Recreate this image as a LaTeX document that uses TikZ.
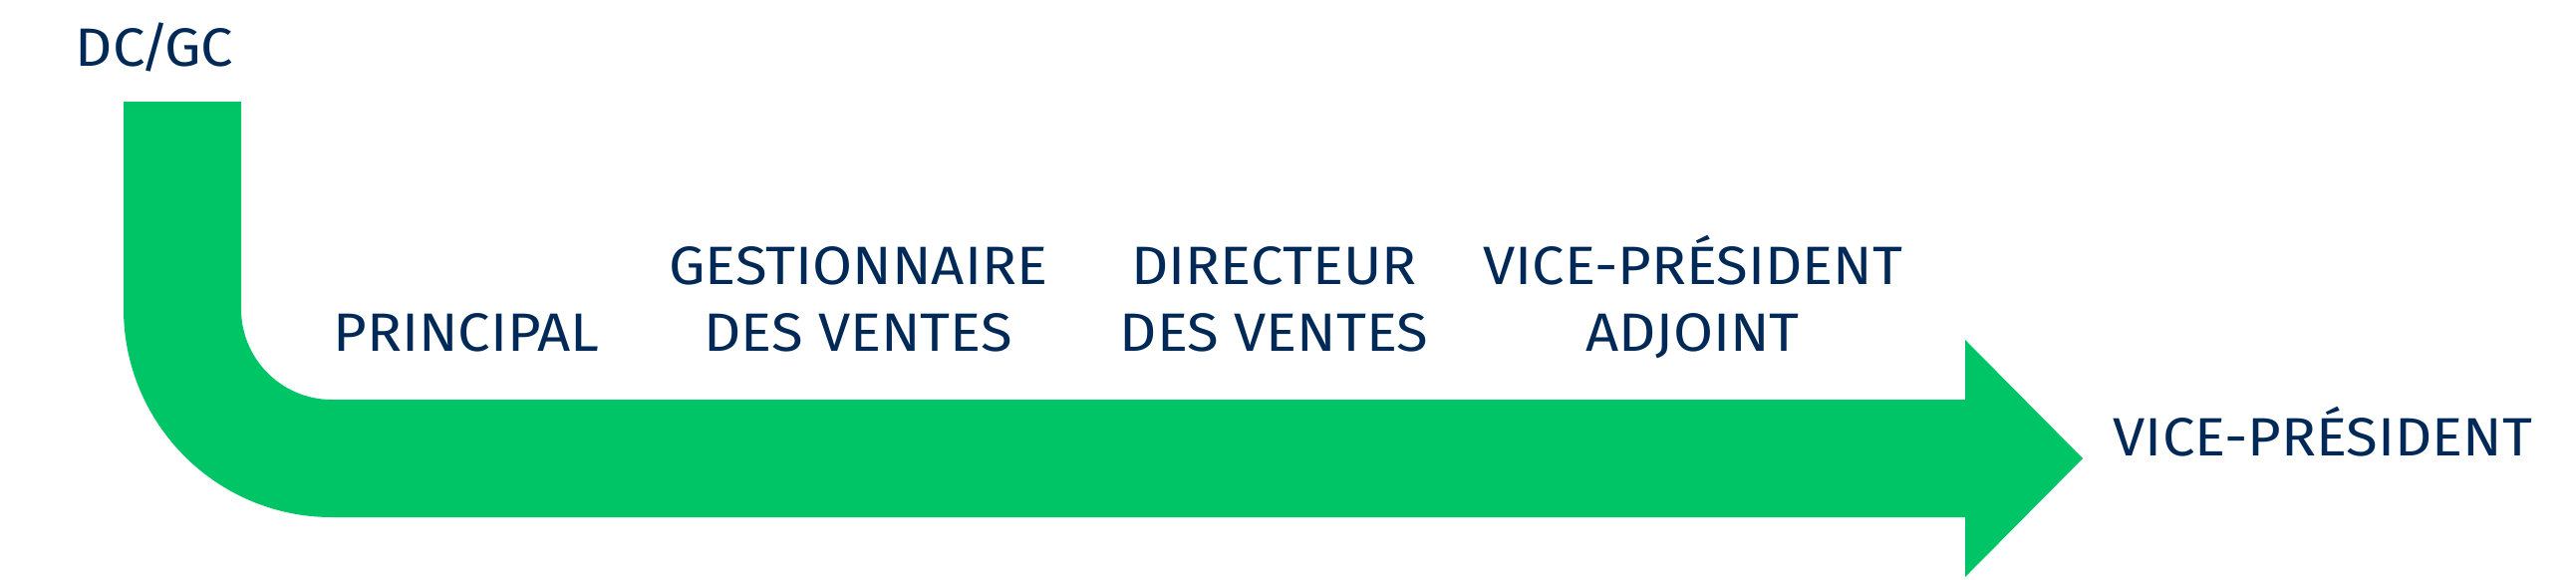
\documentclass[tikz,border=0pt]{standalone}
\usepackage{fontspec}
\setmainfont{Fira Sans}[FakeStretch=1.07]
\usetikzlibrary{positioning}
\definecolor{bandgreen}{RGB}{0,197,102}
\definecolor{ranknavy}{RGB}{0,41,87}
\tikzset{%
  % Specifications for style of nodes:
  rank/.style = {text=ranknavy, inner sep=0pt, align=center, anchor=base,
                 font=\fontsize{15.4}{18.8}\selectfont},
  band/.style = {fill=bandgreen, draw=none},
}

\begin{document}
\begin{tikzpicture}[x=0.01cm, y=0.01cm]
  \useasboundingbox (0,0) rectangle (2585,581);
  % Specification of the green band and its head
  \fill[band] (124,479) -- (124,271) arc[start angle=180, end angle=270, radius=209]
    -- (1972,62) -- (1972,2) -- (2090,121) -- (1972,240) -- (1972,180)
    -- (333,180) arc[start angle=270, end angle=180, radius=91] -- (242,479) -- cycle;
  % Specification of nodes (position, etc.)
  \node (dcgc)      [rank] at (155,515) {DC\kern-1.5pt/\kern-1.5pt GC};
  \node (principal) [rank] at (468,229) {PRINCIPAL};
  \node (gestion)   [rank, right=3.93cm of principal.base, anchor=base]
                                          {GESTIONNAIRE\\DES VENTES};
  \node (directeur) [rank, right=4.17cm of gestion.base, anchor=base]
                                          {DIRECTEUR\\DES VENTES};
  \node (vpadjoint) [rank, right=4.2cm of directeur.base, anchor=base]
                                          {VICE-PRÉSIDENT\\ADJOINT};
  \node (vp)        [rank] at (2331,124) {VICE-PRÉSIDENT};
\end{tikzpicture}
\end{document}
